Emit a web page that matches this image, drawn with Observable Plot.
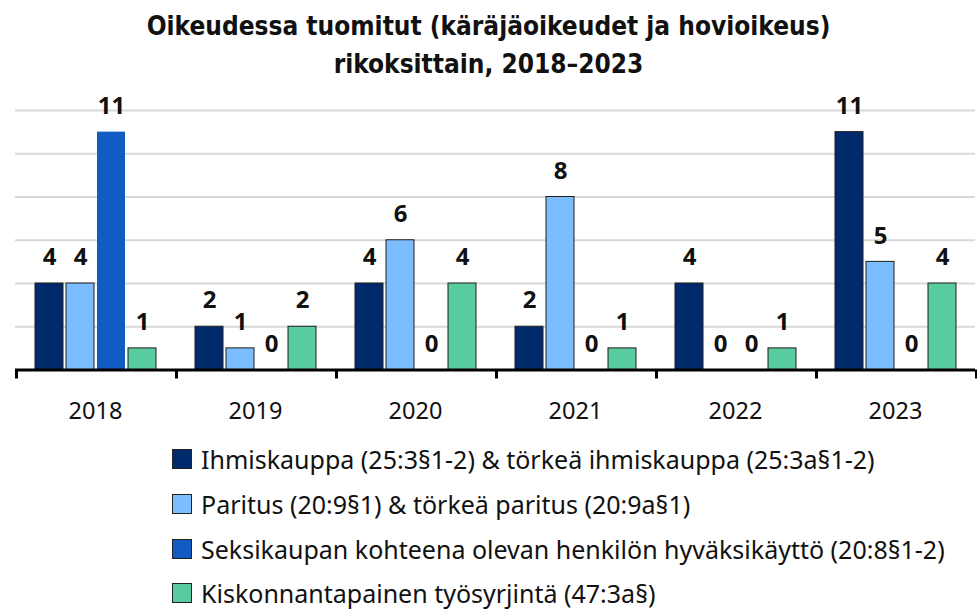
<!DOCTYPE html>
<html>
<head>
<meta charset="utf-8">
<script src="https://cdn.jsdelivr.net/npm/d3@7"></script>
<script src="https://cdn.jsdelivr.net/npm/@observablehq/plot@0.6"></script>
<style>
  html, body { margin: 0; padding: 0; background: #fff; }
  body { width: 977px; height: 609px; overflow: hidden; font-family: "Noto Sans", sans-serif; position: relative; }
  #title { position: absolute; left: 0; top: 0; width: 977px; padding-top: 7px; text-align: center; font-family: "DejaVu Sans Condensed", "DejaVu Sans", sans-serif; font-weight: bold; font-size: 26px; line-height: 38px; color: #111; }
  #legend { position: absolute; left: 172px; top: 437px; }
  .row { display: flex; align-items: center; height: 44.7px; font-size: 25px; color: #111; white-space: nowrap; }
  .sw { width: 18px; height: 18px; border: 1px solid #222; margin-right: 9px; flex: none; }
  #chart { position: absolute; left: 0; top: 70px; }
</style>
</head>
<body>
<div id="title">Oikeudessa tuomitut (käräjäoikeudet ja hovioikeus)<br>rikoksittain, 2018–2023</div>
<div id="chart"></div>
<div id="legend"></div>
<script>
const years = ["2018", "2019", "2020", "2021", "2022", "2023"];
const series = [
  "Ihmiskauppa (25:3§1-2) & törkeä ihmiskauppa (25:3a§1-2)",
  "Paritus (20:9§1) & törkeä paritus (20:9a§1)",
  "Seksikaupan kohteena olevan henkilön hyväksikäyttö (20:8§1-2)",
  "Kiskonnantapainen työsyrjintä (47:3a§)"
];
const colors = ["#002a6b", "#7cbdff", "#115bc3", "#58cc9e"];
const ihmiskauppa = [4, 2, 4, 2, 4, 11];
const paritus = [4, 1, 6, 8, 0, 5];
const seksikauppa = [11, 0, 0, 0, 0, 0];
const tyosyrjinta = [1, 2, 4, 1, 1, 4];
const yTicks = [2, 4, 6, 8, 10, 12];

const valuesBySeries = [ihmiskauppa, paritus, seksikauppa, tyosyrjinta];
const data = [];
years.forEach((yr, i) => {
  series.forEach((s, j) => data.push({year: yr, series: s, value: valuesBySeries[j][i]}));
});

const font = "Noto Sans";
const chart = Plot.plot({
  width: 977,
  height: 365,
  marginTop: 40,
  marginBottom: 65.5,
  marginLeft: 13,
  marginRight: 0,
  style: {fontFamily: font, background: "transparent", overflow: "visible"},
  fx: {domain: years, padding: 0, axis: null},
  x: {domain: series, paddingInner: 0.1, paddingOuter: 0.62, axis: null},
  y: {domain: [0, 12], axis: null},
  color: {domain: series, range: colors},
  marks: [
    Plot.gridY(yTicks, {stroke: "#d9d9d9", strokeOpacity: 1, strokeWidth: 2}),
    Plot.barY(data.filter(d => d.value > 0 && d.series !== series[2]), {fx: "year", x: "series", y: "value", fill: "series", stroke: "#1e1e1e", strokeWidth: 1}),
    Plot.barY(data.filter(d => d.value > 0 && d.series === series[2]), {fx: "year", x: "series", y: "value", fill: "series"}),
    Plot.ruleY([0], {stroke: "#000", strokeWidth: 3}),
    Plot.text(data, {fx: "year", x: "series", y: "value", text: d => String(d.value), dy: -26, fontSize: 24, fontWeight: "bold", fill: "#111", lineAnchor: "middle"}),
    Plot.text(years, {fx: d => d, text: d => d, frameAnchor: "bottom", dy: 41, fontSize: 23.5, fill: "#111", lineAnchor: "middle"})
  ]
});
document.getElementById("chart").appendChild(chart);

// group separator ticks on the x axis, placed with the library's own scales
const fx = chart.scale("fx"), ys = chart.scale("y");
const y0 = ys.apply(0);
const edges = years.map(y => fx.apply(y)).concat([fx.apply(years[years.length - 1]) + fx.bandwidth]);
d3.select(chart).append("g").selectAll("line").data(edges).join("line")
  .attr("x1", d => d + 1.5).attr("x2", d => d + 1.5)
  .attr("y1", y0).attr("y2", y0 + 9)
  .attr("stroke", "#000").attr("stroke-width", 3);

const legend = document.getElementById("legend");
series.forEach((s, j) => {
  const row = document.createElement("div");
  row.className = "row";
  const sw = document.createElement("div");
  sw.className = "sw";
  sw.style.background = colors[j];
  row.appendChild(sw);
  const t = document.createElement("span");
  t.textContent = s;
  row.appendChild(t);
  legend.appendChild(row);
});
</script>
</body>
</html>
